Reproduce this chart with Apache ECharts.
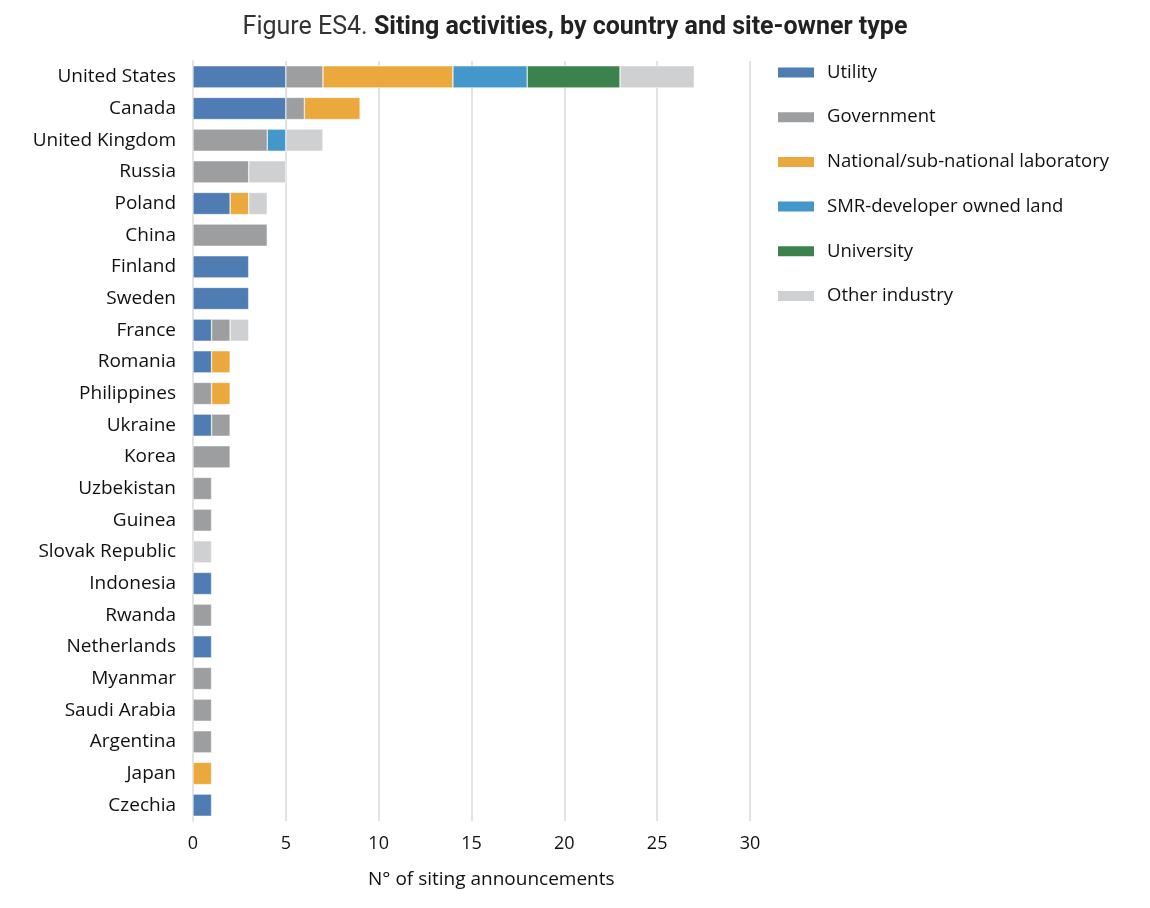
<!DOCTYPE html>
<html>
<head>
<meta charset="utf-8">
<script src="https://cdn.jsdelivr.net/npm/echarts@6/dist/echarts.min.js"></script>
<style>html,body{margin:0;padding:0;background:#fff}#c{width:1150px;height:908px}</style>
</head>
<body>
<div id="c"></div>
<script>
const countries = ["United States","Canada","United Kingdom","Russia","Poland","China","Finland","Sweden","France","Romania","Philippines","Ukraine","Korea","Uzbekistan","Guinea","Slovak Republic","Indonesia","Rwanda","Netherlands","Myanmar","Saudi Arabia","Argentina","Japan","Czechia"];
const seriesNames = ["Utility","Government","National/sub-national laboratory","SMR-developer owned land","University","Other industry"];
const utility    = [5,5,0,0,2,0,3,3,1,1,0,1,0,0,0,0,1,0,1,0,0,0,0,1];
const government = [2,1,4,3,0,4,0,0,1,0,1,1,2,1,1,0,0,1,0,1,1,1,0,0];
const laboratory = [7,3,0,0,1,0,0,0,0,1,1,0,0,0,0,0,0,0,0,0,0,0,1,0];
const smrLand    = [4,0,1,0,0,0,0,0,0,0,0,0,0,0,0,0,0,0,0,0,0,0,0,0];
const university = [5,0,0,0,0,0,0,0,0,0,0,0,0,0,0,0,0,0,0,0,0,0,0,0];
const other      = [4,0,2,2,1,0,0,0,1,0,0,0,0,0,0,1,0,0,0,0,0,0,0,0];
const xTicks = [0,5,10,15,20,25,30];
const colors = ["#4f7cb3","#9d9ea0","#eba83c","#4397cb","#3c824c","#cfd0d2"];
const values = [utility, government, laboratory, smrLand, university, other];

const chart = echarts.init(document.getElementById('c'));
const font = "'Open Sans', 'Noto Sans', sans-serif";
chart.setOption({
  animation: false,
  title: {
    text: "{n|Figure ES4. }{b|Siting activities, by country and site-owner type}",
    left: 570, top: 10, textAlign: 'center',
    textStyle: {
      rich: {
        n: {fontFamily: "Roboto, sans-serif", fontSize: 25, color: '#333', fontWeight: 'normal'},
        b: {fontFamily: "Roboto, sans-serif", fontSize: 25, color: '#222', fontWeight: 'bold'}
      }
    }
  },
  legend: {
    orient: 'vertical', left: 771, top: 58,
    itemWidth: 38, itemHeight: 12, itemGap: 25.7,
    icon: 'rect',
    textStyle: {fontFamily: font, fontSize: 18.5, color: '#111', padding: [0,0,0,7]},
    data: seriesNames
  },
  grid: {left: 193, right: 400, top: 61, bottom: 87, containLabel: false},
  xAxis: {
    type: 'value', min: 0, max: 30, interval: 5,
    axisLabel: {fontFamily: font, fontSize: 18, color: '#111', margin: 14,
      formatter: v => xTicks.includes(v) ? String(v) : ''},
    splitLine: {show: true, lineStyle: {color: '#e3e3e3', width: 2}},
    axisLine: {show: false}, axisTick: {show: false}
  },
  yAxis: {
    type: 'category', data: countries, inverse: true,
    axisLabel: {fontFamily: font, fontSize: 19, color: '#111', margin: 17},
    axisLine: {show: true, lineStyle: {color: '#e3e3e3', width: 2}},
    axisTick: {show: false}
  },
  graphic: [{
    type: 'text', left: 368, top: 870,
    style: {text: 'N° of siting announcements', font: "19px 'Open Sans', 'Noto Sans', sans-serif", fill: '#111'}
  }],
  series: seriesNames.map((name, i) => ({
    name, type: 'bar', stack: 'total', barWidth: '70%',
    itemStyle: {color: colors[i], borderColor: '#fff', borderWidth: 0.5},
    data: values[i].map(v => v === 0 ? null : v)
  }))
});
</script>
</body>
</html>
